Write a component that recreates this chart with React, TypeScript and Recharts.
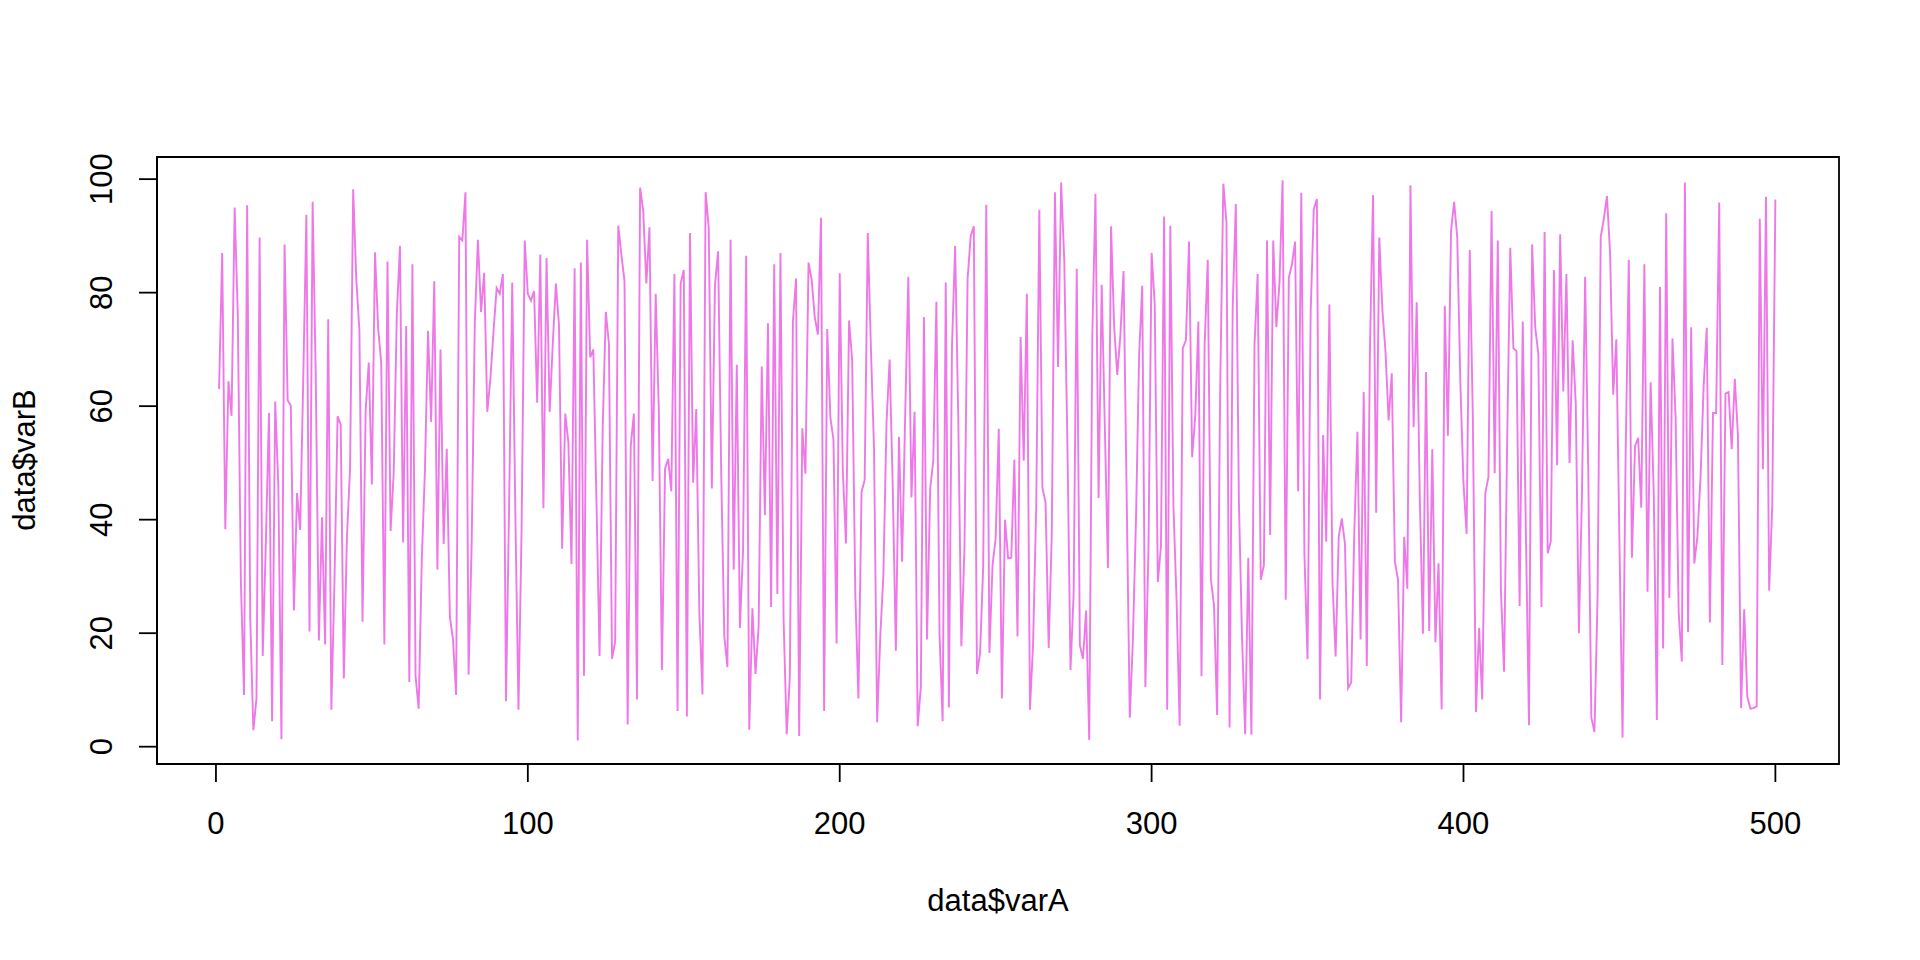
import { LineChart, Line, XAxis, YAxis, ReferenceArea } from "recharts";

const varB1 = [
  63, 87, 38.3, 64.4, 58.3, 95, 76.2, 29, 9.1, 95.4, 22.5, 2.9, 8.5, 89.7, 16, 36, 58.8, 4.5, 60.8, 46,
  1.3, 88.5, 61, 60.1, 24, 44.7, 38.2, 65, 93.7, 20.3, 96, 65.3, 18.7, 40.4, 18, 75.3, 6.5, 29, 58.2, 56.8,
  12, 37, 49, 98.2, 82.3, 73.4, 22, 59.3, 67.7, 46.2, 87.1, 73.8, 67.6, 18, 85.5, 38, 48.4, 76.3, 88.2, 36,
  74.1, 11.4, 85, 12.4, 6.7, 33, 48.6, 73.3, 57.2, 82, 31.2, 70, 35.7, 52.5, 22.9, 18.9, 9.1, 89.8, 89.2, 97.7,
  12.7, 36, 74.7, 89.3, 76.6, 83.5, 59, 64.9, 73.2, 80.8, 79.8, 83.3, 8, 42.7, 81.8, 41, 6.5, 38.4, 89.2, 79.8,
];
const varB2 = [
  78.6, 80.3, 60.6, 86.7, 42, 86.1, 59, 71, 81.6, 74.2, 34.9, 58.7, 53.6, 32.2, 84.3, 1.1, 85.3, 12.5, 89.3, 68.6,
  70, 43.4, 16, 56, 76.6, 71, 15.5, 18.5, 91.8, 86.7, 82, 3.9, 53, 58.7, 8.3, 98.5, 94.4, 81.6, 91.5, 46.8,
  79.8, 59.1, 13.5, 49, 50.7, 45, 83.3, 6.3, 81.6, 84, 5.3, 90.5, 46.5, 59.5, 23.6, 9.2, 97.7, 91.5, 45.5, 81.3,
  87.3, 48.4, 19.4, 14, 89.3, 31.2, 67.3, 20.9, 34.5, 86.5, 3, 24.4, 12.8, 21.2, 67, 40.8, 74.6, 24.6, 85, 26.9,
  87, 22.6, 2.2, 12.2, 75, 82.5, 1.9, 56.1, 48.1, 85.3, 82.3, 75.7, 72.6, 93.2, 6.3, 73.6, 58, 54.1, 18.2, 83.4,
];
const varB3 = [
  48.6, 35.8, 75.1, 68, 27, 8.5, 44.9, 47, 90.5, 70.2, 52.5, 4.3, 19.4, 30.2, 57, 68.2, 45.9, 16.9, 54.6, 32.6,
  58.7, 82.8, 43.9, 59, 3.6, 10.5, 75.7, 18.9, 45.4, 50.4, 78.4, 19.9, 4.5, 81.8, 6.9, 70.6, 88.2, 58.3, 17.7, 35,
  82.4, 90, 91.7, 12.8, 16.5, 31.6, 95.5, 16.5, 32, 36.7, 56, 8.5, 40, 33.2, 33.3, 50.6, 19.4, 72.2, 50.4, 79.8,
  6.5, 18.2, 42, 94.6, 45.6, 43, 17.4, 37.7, 97.7, 66.9, 99.4, 85.6, 53.6, 13.5, 26.9, 84.2, 17.9, 15.5, 24, 1.2,
  72.6, 97.4, 43.8, 81.4, 56.4, 31.5, 91.7, 73.9, 65.5, 72.6, 83.8, 44.4, 5.1, 18.8, 40.2, 69, 81.2, 10.5, 35, 87,
];
const varB4 = [
  78, 29, 35.3, 93.4, 6.5, 91.8, 42.4, 25.9, 3.7, 70.2, 71.6, 89, 51, 58.3, 74.9, 12.4, 70.7, 85.8, 29.5, 25,
  5.6, 63.5, 99.2, 92.4, 3.4, 77.3, 95.6, 42.9, 19.2, 2.2, 33.3, 2.1, 70.8, 83.3, 29.4, 32, 89.2, 37.3, 89.2, 73.9,
  81.7, 99.8, 25.9, 82.6, 85, 89, 45, 97.6, 34, 15.4, 76.6, 94.7, 96.5, 8.3, 54.9, 36.1, 77.9, 29, 15.9, 37,
  40.2, 35.7, 10.3, 11.3, 38, 55.5, 18.9, 62.5, 14.2, 69.9, 97.2, 41.2, 89.7, 76.9, 69.6, 57.5, 65.8, 32.6, 29.5, 4.3,
  37, 27.8, 98.9, 56.3, 78.3, 43.7, 19.9, 66, 20.4, 52.4, 18.4, 32.3, 6.6, 77.7, 54.8, 90.8, 96, 89.7, 64, 46.4,
];
const varB5 = [
  37.5, 87.5, 57.8, 6.1, 20.9, 8.3, 44.7, 47.5, 94.4, 48.2, 89.2, 27.6, 13.2, 53.6, 87.9, 70.2, 69.7, 24.8, 74.9, 38,
  3.8, 88.5, 73.9, 69.2, 24.6, 90.7, 34.1, 36.2, 84, 49.6, 90.3, 62.6, 83.3, 50, 71.6, 60.4, 20, 45, 82.8, 48.8,
  5.1, 2.6, 26.6, 89.8, 93, 97, 87, 62, 71.8, 36.3, 1.6, 51.8, 85.8, 33.3, 53, 54.4, 42.1, 85, 27.3, 64.2,
  44.7, 4.7, 81, 17.3, 94, 26.2, 71.9, 58.2, 23.6, 15, 99.4, 20.2, 73.9, 32.3, 37, 47.4, 63.5, 73.8, 21.9, 58.8,
  58.8, 95.9, 14.4, 62.2, 62.5, 52.4, 64.8, 54.8, 6.8, 24.2, 8.8, 6.7, 6.8, 7.1, 93, 48.9, 96.9, 27.5, 42.4, 96.4,
];
const xTicks = [0, 100, 200, 300, 400, 500];
const yTicks = [0, 20, 40, 60, 80, 100];

const varB = [...varB1, ...varB2, ...varB3, ...varB4, ...varB5];
const data = varB.map((value, i) => ({ varA: i + 1, varB: value }));

const fontFamily = "'Liberation Sans', Arial, sans-serif";
const fontSize = 31;
const xDomain: [number, number] = [-18.9, 520.4];
const yDomain: [number, number] = [-3.05, 103.9];

function XTick({ x, y, payload }: any) {
  return (
    <text x={x} y={y + 52} fontFamily={fontFamily} fontSize={fontSize} fill="#000" textAnchor="middle">
      {payload.value}
    </text>
  );
}

function YTick({ x, y, payload }: any) {
  return (
    <text
      x={x - 27}
      y={y}
      fontFamily={fontFamily}
      fontSize={fontSize}
      fill="#000"
      textAnchor="middle"
      transform={`rotate(-90 ${x - 27} ${y})`}
    >
      {payload.value}
    </text>
  );
}

function XLabel() {
  return (
    <text x={998} y={911} fontFamily={fontFamily} fontSize={fontSize} fill="#000" textAnchor="middle">
      data$varA
    </text>
  );
}

function YLabel() {
  return (
    <text
      x={35}
      y={460}
      fontFamily={fontFamily}
      fontSize={fontSize}
      fill="#000"
      textAnchor="middle"
      transform="rotate(-90 35 460)"
    >
      data$varB
    </text>
  );
}

export default function App() {
  return (
    <div style={{ position: "absolute", left: 0, top: 0, background: "#fff" }}>
      <LineChart
        width={1920}
        height={960}
        data={data}
        margin={{ top: 157, right: 81, bottom: 96, left: 0 }}
      >
        <XAxis
          dataKey="varA"
          type="number"
          domain={xDomain}
          ticks={xTicks}
          allowDataOverflow
          interval={0}
          height={100}
          tickSize={18}
          tickMargin={0}
          stroke="#000"
          strokeWidth={1.8}
          tick={<XTick />}
          label={<XLabel />}
        />
        <YAxis
          dataKey="varB"
          type="number"
          width={157}
          domain={yDomain}
          ticks={yTicks}
          allowDataOverflow
          interval={0}
          tickSize={18}
          tickMargin={0}
          stroke="#000"
          strokeWidth={1.8}
          tick={<YTick />}
          label={<YLabel />}
        />
        <ReferenceArea
          x1={xDomain[0]}
          x2={xDomain[1]}
          y1={yDomain[0]}
          y2={yDomain[1]}
          fill="none"
          stroke="#000"
          strokeWidth={1.8}
        />
        <Line
          dataKey="varB"
          type="linear"
          stroke="#ee78e8"
          strokeWidth={1.9}
          dot={false}
          isAnimationActive={false}
        />
      </LineChart>
    </div>
  );
}
